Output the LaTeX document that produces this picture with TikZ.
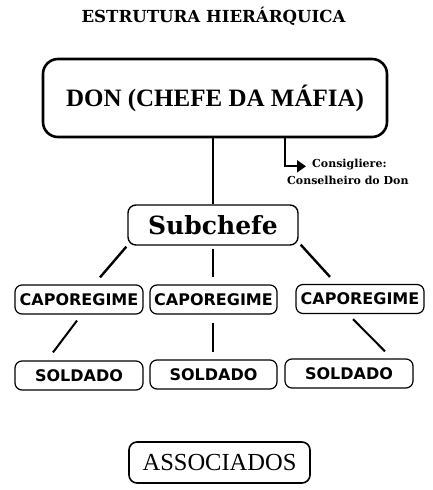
\documentclass[tikz,border=0pt]{standalone}
\usepackage{fontspec}
\usetikzlibrary{calc,arrows.meta}
\setmainfont{Liberation Serif}
\newfontfamily\slabfont{DejaVu Serif}
\newfontfamily\capfont{DejaVu Sans}
\begin{document}
\begin{tikzpicture}[x=1pt,y=-1pt,
  bigbox/.style={draw, line width=2.6pt, rounded corners=15pt, inner sep=0pt},
  midbox/.style={draw, line width=1.4pt, rounded corners=8pt, inner sep=0pt},
  smallbox/.style={draw, line width=1.2pt, rounded corners=7pt, inner sep=0pt, minimum height=29pt,
    font=\capfont\bfseries\fontsize{16}{18}\selectfont},
  link/.style={line width=2.4pt},
  thin link/.style={line width=2pt}]
\useasboundingbox (0,0) rectangle (433,490);
\node[font=\slabfont\bfseries\fontsize{16.6}{18}\selectfont] (title) at (213.5,16) {ESTRUTURA HIERÁRQUICA};
\node[bigbox, minimum width=344pt, minimum height=78pt, font=\bfseries\fontsize{25}{27}\selectfont] (don) at (215,98) {DON (CHEFE DA MÁFIA)};
\node[midbox, minimum width=170pt, minimum height=40pt, font=\slabfont\bfseries\fontsize{25}{28}\selectfont] (sub) at (213,225) {Subchefe};
\node[smallbox, minimum width=128pt] (cap1) at (79,299.5) {CAPOREGIME};
\node[smallbox, minimum width=127pt] (cap2) at (213.5,299.5) {CAPOREGIME};
\node[smallbox, minimum width=128pt] (cap3) at (360,299) {CAPOREGIME};
\node[smallbox, minimum width=128pt] (sol1) at (79,375.5) {SOLDADO};
\node[smallbox, minimum width=127pt] (sol2) at (213.5,374.5) {SOLDADO};
\node[smallbox, minimum width=128pt] (sol3) at (349,373.5) {SOLDADO};
\node[midbox, line width=1.6pt, minimum width=181pt, minimum height=41pt, font=\fontsize{24.5}{26}\selectfont] (assoc) at (219.5,462.5) {ASSOCIADOS};
\node[anchor=base west, font=\slabfont\bfseries\fontsize{11}{13}\selectfont, inner sep=0pt] (cons1) at (312,167) {Consigliere:};
\node[anchor=base west, font=\slabfont\bfseries\fontsize{11}{13}\selectfont, inner sep=0pt] (cons2) at (287,184) {Conselheiro do Don};
% connectors
\draw[link] (don.south -| sub.north) -- (sub.north);
\coordinate (bend) at ($(don.south)+(70,28)$);
\draw[line width=2pt, -{Triangle[length=9pt,width=12pt]}] ($(don.south)+(70,0)$) -- (bend) -- ($(bend)+(21,0)$);
\draw[link] ($(sub.south west)+(-1,1)$) -- ($(cap1.north)+(21,-7)$);
\draw[link] ($(sub.south)+(0,3)$) -- ($(cap2.north)+(-0.5,-7)$);
\draw[link] ($(sub.south east)+(2,-1)$) -- ($(cap3.north)+(-30,-7)$);
\draw[thin link] ($(cap1.south)+(-2,6)$) -- ($(sol1.north)+(-26,-8)$);
\draw[thin link] ($(cap2.south)+(-0.5,8)$) -- ($(sol2.north)+(-0.5,-7)$);
\draw[thin link] ($(cap3.south)+(-7,5)$) -- ($(sol3.north)+(36,-7)$);
\end{tikzpicture}
\end{document}
